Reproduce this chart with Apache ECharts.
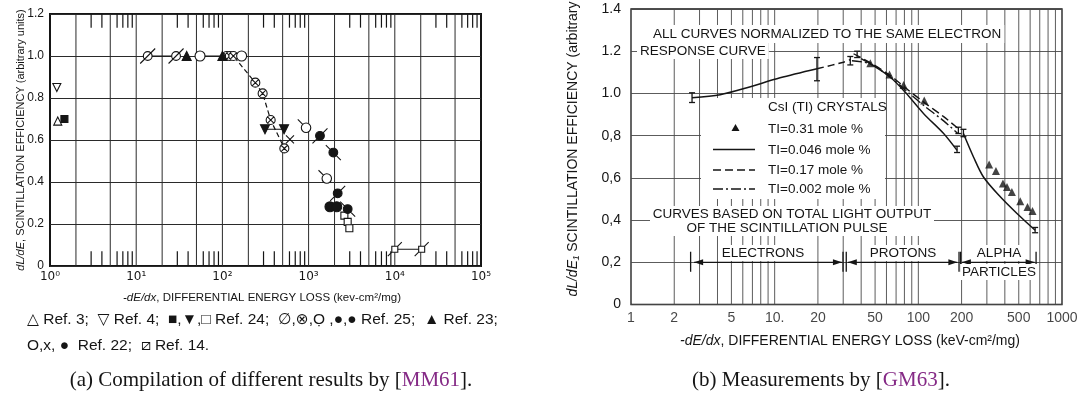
<!DOCTYPE html>
<html><head><meta charset="utf-8">
<script src="https://cdn.jsdelivr.net/npm/echarts@6/dist/echarts.min.js"></script>
<style>html,body{margin:0;padding:0;background:#fff}#c{width:1090px;height:399px}</style>
</head><body><div id="c"></div>
<script>
// ===== Panel (a): [dE/dx (keV cm2/mg), scintillation efficiency] =====
const ref3OpenTri = [[1.23, 0.69]];
const ref4OpenTriDown = [[1.2, 0.85]];
const ref24Square = [[1.47, 0.70]];
const ref24TriDown = [[312, 0.651], [519, 0.651]];
const ref24OpenSquare = [[2600, 0.24], [2840, 0.21], [2970, 0.18]];
const ref25OpenSlash = [[13.6, 1.0], [29, 1.0]];
const ref25CircX = [[112, 1.0], [122, 1.0], [134, 1.0], [241, 0.873], [293, 0.822], [363, 0.695], [523, 0.56]];
const ref25OpenTail = [[891, 0.667], [1550, 0.425]];
const ref25FilledSlash = [[1355, 0.62], [2175, 0.346]];
const ref25FilledTail = [[1936, 0.54], [2840, 0.271]];
const ref23Tri = [[38.5, 1.0], [100, 1.0]];
const ref22Open = [[55, 1.0], [167, 1.0]];
const ref22Cross = [[608, 0.603]];
const ref22Filled = [[1770, 0.282], [2120, 0.282]];
const ref14Square = [[10000, 0.08], [20500, 0.08]];
const plateauA = [[55, 1.0], [100, 1.0]];
const decadesA = [1, 10, 100, 1000, 10000];

// ===== Panel (b) =====
const responseSolid = [[2.66, 0.98], [4.18, 0.994], [6.41, 1.027], [10.9, 1.074], [19.7, 1.117]];
const responseDashed = [[19.7, 1.117], [30.1, 1.148], [33.6, 1.16]];
const tl017 = [[35.4, 1.188], [46.4, 1.145], [63.8, 1.085], [80, 1.03], [109, 0.959], [150, 0.89], [190, 0.833]];
const tl0002 = [[34.5, 1.155], [46.4, 1.14], [63.8, 1.077], [80, 1.02], [109, 0.943], [150, 0.87], [188, 0.81]];
const tl0046Protons = [[40, 1.165], [46.4, 1.14], [63.8, 1.077], [80, 1.01], [109, 0.904], [150, 0.81], [186, 0.73]];
const tl0046Alpha = [[206, 0.81], [242, 0.699], [284, 0.604], [372, 0.51], [486, 0.431], [650, 0.352]];
const tl031 = [[46.3, 1.143], [63, 1.09], [78.9, 1.04], [110, 0.967], [311, 0.663], [347, 0.633], [388, 0.573], [414, 0.557], [448, 0.533], [512, 0.489], [575, 0.462], [623, 0.443]];
const errorBarsB = [[2.66, 0.957, 1.003], [19.7, 1.06, 1.17], [33.6, 1.135, 1.175], [37.5, 1.17, 1.2], [186, 0.72, 0.75], [190, 0.81, 0.84], [206, 0.795, 0.83], [650, 0.34, 0.365]];
const rangeArrowsB = [[2.75, 29.4, 0.2], [32.3, 187, 0.2], [201, 645, 0.2]];
const rangeBarsB = [[2.6, 0.155, 0.25], [29.9, 0.155, 0.25], [31.5, 0.155, 0.25], [192, 0.155, 0.25], [197, 0.155, 0.25], [660, 0.155, 0.25]];
const tickValuesB = [1, 2, 5, 10, 20, 50, 100, 200, 500, 1000];
const tickLabelsB = ['1', '2', '5', '10.', '20', '50', '100', '200', '500', '1000'];
const decadesB = [1, 10, 100];

const INK = '#151515';
const GRIDA = '#2a2a2a';
const GRIDB = '#4a4a4a';
const FONT = 'Liberation Sans, DejaVu Sans, sans-serif';

const gridLinesA = [], minorTopA = [], minorBotA = [];
decadesA.forEach(d => {
  [1, 2, 5].forEach(m => { const v = m * d; if (v > 1 && v < 1e5) gridLinesA.push([v, 0, 1.2]); });
  [3, 4, 6, 7, 8, 9].forEach(m => { minorTopA.push([m * d, 1.135, 1.2]); minorBotA.push([m * d, 0, 0.07]); });
});
const gridLinesB = [];
decadesB.forEach(d => { for (let m = 1; m <= 9; m++) { const v = m * d; if (v > 1 && v < 1000) gridLinesB.push([v, 0, 1.4]); } });

const SYM = {
  openSlash: 'path://M7,3.5A3.5,3.5,0,1,1,7,10.5A3.5,3.5,0,1,1,7,3.5Z M1,13L13,1',
  backSlash: 'path://M7,3.5A3.5,3.5,0,1,1,7,10.5A3.5,3.5,0,1,1,7,3.5Z M1,1L13,13',
  circX: 'path://M5,0A5,5,0,1,1,5,10A5,5,0,1,1,5,0Z M1.5,1.5L8.5,8.5 M8.5,1.5L1.5,8.5',
  tail: 'path://M8,4A4,4,0,1,1,8,12A4,4,0,1,1,8,4Z M5.2,5.2L1,1',
  cross: 'path://M0,0L10,10 M10,0L0,10',
  slashSquare: 'path://M4,4H10V10H4Z M0,14L4,10 M10,4L14,0'
};

function vseg(xi, data, style, z, cap) {
  return {
    type: 'custom', xAxisIndex: xi, yAxisIndex: xi, data: data, z: z, silent: true, clip: false,
    encode: { x: 0, y: [1, 2] },
    renderItem: (p, api) => {
      const a = api.coord([api.value(0), api.value(1)]);
      const b = api.coord([api.value(0), api.value(2)]);
      const ch = [{ type: 'line', shape: { x1: a[0], y1: a[1], x2: b[0], y2: b[1] }, style: style }];
      if (cap) {
        ch.push({ type: 'line', shape: { x1: a[0] - cap, y1: a[1], x2: a[0] + cap, y2: a[1] }, style: style });
        ch.push({ type: 'line', shape: { x1: b[0] - cap, y1: b[1], x2: b[0] + cap, y2: b[1] }, style: style });
      }
      return { type: 'group', children: ch };
    }
  };
}
function pts(data, symbol, size, fill, extra) {
  return Object.assign({
    type: 'scatter', xAxisIndex: 0, yAxisIndex: 0, data: data, symbol: symbol, symbolSize: size, z: 5,
    itemStyle: { color: fill, borderColor: INK, borderWidth: 1.1, opacity: 1 }
  }, extra || {});
}
function lineS(xi, data, type, width, smooth) {
  return { type: 'line', xAxisIndex: xi, yAxisIndex: xi, data: data, symbol: 'none', smooth: smooth || 0, z: 3,
    lineStyle: { color: INK, width: width, type: type } };
}

const series = [
  vseg(0, gridLinesA, { stroke: GRIDA, lineWidth: 1 }, 1),
  vseg(0, minorTopA, { stroke: INK, lineWidth: 1.2 }, 1),
  vseg(0, minorBotA, { stroke: INK, lineWidth: 1.2 }, 1),
  lineS(0, ref25OpenSlash, 'solid', 1.1),
  lineS(0, plateauA, 'solid', 1.1),
  lineS(0, ref25CircX, [5, 3], 1.2),
  lineS(0, ref24TriDown, 'solid', 1.1),
  lineS(0, ref14Square, 'solid', 1.1),
  pts(ref3OpenTri, 'triangle', 8, '#fff'),
  pts(ref4OpenTriDown, 'triangle', 8, '#fff', { symbolRotate: 180 }),
  pts(ref24Square, 'rect', 7, INK),
  pts(ref24TriDown, 'triangle', 9, INK, { symbolRotate: 180 }),
  pts(ref24OpenSquare, 'rect', 7, '#fff'),
  pts(ref25OpenSlash, SYM.openSlash, 15, '#fff'),
  pts(ref25CircX, SYM.circX, 9, '#fff'),
  pts(ref25OpenTail, SYM.tail, 13, '#fff'),
  pts(ref25FilledSlash, SYM.openSlash, 15, INK),
  pts(ref25FilledTail, SYM.backSlash, 15, INK),
  pts(ref23Tri, 'triangle', 9, INK),
  pts(ref22Open, 'circle', 10, '#fff'),
  pts(ref22Cross, SYM.cross, 8, 'none'),
  pts(ref22Filled, 'circle', 10, INK),
  pts(ref14Square, SYM.slashSquare, 14, '#fff'),
  // panel (b)
  vseg(1, gridLinesB, { stroke: GRIDB, lineWidth: 0.9 }, 1),
  lineS(1, responseSolid, 'solid', 1.5, 0.3),
  lineS(1, responseDashed, [7, 4], 1.5, 0.3),
  lineS(1, tl017, [8, 4], 1.4, 0.3),
  lineS(1, tl0002, [10, 3, 2, 3], 1.4, 0.3),
  lineS(1, tl0046Protons, 'solid', 1.4, 0.3),
  lineS(1, tl0046Alpha, 'solid', 1.5, 0.3),
  { type: 'scatter', xAxisIndex: 1, yAxisIndex: 1, data: tl031, symbol: 'triangle', symbolSize: 8, z: 5,
    itemStyle: { color: INK } },
  vseg(1, errorBarsB, { stroke: INK, lineWidth: 1.3 }, 4, 3),
  vseg(1, rangeBarsB, { stroke: INK, lineWidth: 1.3 }, 4),
  {
    type: 'custom', xAxisIndex: 1, yAxisIndex: 1, data: rangeArrowsB, z: 4, silent: true, clip: false,
    encode: { x: [0, 1], y: 2 },
    renderItem: (p, api) => {
      const a = api.coord([api.value(0), api.value(2)]);
      const b = api.coord([api.value(1), api.value(2)]);
      const st = { stroke: INK, lineWidth: 1.2 };
      return { type: 'group', children: [
        { type: 'line', shape: { x1: a[0], y1: a[1], x2: b[0], y2: b[1] }, style: st },
        { type: 'polygon', shape: { points: [[a[0], a[1]], [a[0] + 9, a[1] - 3], [a[0] + 9, a[1] + 3]] }, style: { fill: INK } },
        { type: 'polygon', shape: { points: [[b[0], b[1]], [b[0] - 9, b[1] - 3], [b[0] - 9, b[1] + 3]] }, style: { fill: INK } }
      ] };
    }
  },
  { type: 'scatter', xAxisIndex: 1, yAxisIndex: 1, data: tickValuesB.map(v => [v, 0]), symbolSize: 1, z: 2,
    itemStyle: { color: 'rgba(0,0,0,0)' }, silent: true,
    label: { show: true, position: 'bottom', distance: 6, color: INK, fontFamily: FONT, fontSize: 14,
      formatter: p => tickLabelsB[p.dataIndex] } }
];

function T(x, y, text, o) {
  return Object.assign({ type: 'text', x: x, y: y, z: 10, style: Object.assign({
    text: text, fill: INK, fontFamily: FONT, fontSize: 13, align: 'left', verticalAlign: 'middle'
  }, o || {}) }, (o && o.rotation) ? { rotation: o.rotation } : {});
}
const supers = ['⁰', '¹', '²', '³', '⁴', '⁵'];

const graphic = [
  // panel (a) texts
  T(21, 140, '{i|dL/dE}, SCINTILLATION EFFICIENCY (arbitrary units)', { align: 'center', fontSize: 11, rotation: Math.PI / 2, rich: { i: { fontStyle: 'italic', fontSize: 11, fontFamily: FONT } } }),
  T(262, 298, '{i|-dE/dx}, DIFFERENTIAL ENERGY LOSS (kev-cm²/mg)', { align: 'center', fontSize: 11.5, rich: { i: { fontStyle: 'italic', fontSize: 11.5, fontFamily: FONT } } }),
  T(27, 320, '△ Ref. 3;  ▽ Ref. 4;  ■,▼,□ Ref. 24;  ∅,⊗,Ọ ,●,● Ref. 25;  ▲ Ref. 23;', { fontSize: 15.5 }),
  T(27, 346, 'O,x, ●  Ref. 22;  ⧄ Ref. 14.', { fontSize: 15.5 }),
  T(271, 380, '(a) Compilation of different results by [{m|MM61}].', { align: 'center', fontFamily: 'Liberation Serif, serif', fontSize: 21, rich: { m: { fill: '#852a86', fontFamily: 'Liberation Serif, serif', fontSize: 21 } } }),
  // panel (b) texts
  T(573, 130, '{i|dL/dE₁} SCINTILLATION EFFICIENCY (arbitrary units)', { align: 'center', fontSize: 14, rotation: Math.PI / 2, rich: { i: { fontStyle: 'italic', fontSize: 14, fontFamily: FONT } } }),
  T(850, 341, '{i|-dE/dx}, DIFFERENTIAL ENERGY LOSS (keV-cm²/mg)', { align: 'center', fontSize: 14, rich: { i: { fontStyle: 'italic', fontSize: 14, fontFamily: FONT } } }),
  T(821, 380, '(b) Measurements by [{m|GM63}].', { align: 'center', fontFamily: 'Liberation Serif, serif', fontSize: 21, rich: { m: { fill: '#852a86', fontFamily: 'Liberation Serif, serif', fontSize: 21 } } }),
  T(650, 34, 'ALL CURVES NORMALIZED TO THE SAME ELECTRON', { fontSize: 13.5, backgroundColor: '#fff', padding: [2, 3] }),
  T(637, 51, 'RESPONSE CURVE', { fontSize: 13.5, backgroundColor: '#fff', padding: [1, 3] }),
  { type: 'rect', z: 9, shape: { x: 701, y: 98, width: 184, height: 101 }, style: { fill: '#fff' } },
  T(768, 107, 'CsI (TI) CRYSTALS', { fontSize: 13.5 }),
  { type: 'polygon', z: 10, shape: { points: [[735.5, 124], [739.5, 131], [731.5, 131]] }, style: { fill: INK } },
  T(768, 129, 'TI=0.31 mole %', { fontSize: 13.5 }),
  { type: 'line', z: 10, shape: { x1: 713, y1: 149.5, x2: 755, y2: 149.5 }, style: { stroke: INK, lineWidth: 1.4 } },
  T(768, 150, 'TI=0.046 mole %', { fontSize: 13.5 }),
  { type: 'line', z: 10, shape: { x1: 713, y1: 170, x2: 755, y2: 170 }, style: { stroke: INK, lineWidth: 1.4, lineDash: [8, 4] } },
  T(768, 170, 'TI=0.17 mole %', { fontSize: 13.5 }),
  { type: 'line', z: 10, shape: { x1: 713, y1: 189, x2: 755, y2: 189 }, style: { stroke: INK, lineWidth: 1.4, lineDash: [10, 3, 2, 3] } },
  T(768, 189, 'TI=0.002 mole %', { fontSize: 13.5 }),
  { type: 'rect', z: 9, shape: { x: 650, y: 206, width: 284, height: 30 }, style: { fill: '#fff' } },
  T(792, 214, 'CURVES BASED ON TOTAL LIGHT OUTPUT', { align: 'center', fontSize: 13.5 }),
  T(787, 228.5, 'OF THE SCINTILLATION PULSE', { align: 'center', fontSize: 13.5 }),
  T(763, 253, 'ELECTRONS', { align: 'center', fontSize: 13.5, backgroundColor: '#fff', padding: [1, 3] }),
  T(903, 253, 'PROTONS', { align: 'center', fontSize: 13.5, backgroundColor: '#fff', padding: [1, 3] }),
  T(999, 253, 'ALPHA', { align: 'center', fontSize: 13.5, backgroundColor: '#fff', padding: [1, 3] }),
  T(999, 272, 'PARTICLES', { align: 'center', fontSize: 13.5, backgroundColor: '#fff', padding: [1, 2] })
];

const option = {
  animation: false,
  backgroundColor: '#fff',
  grid: [
    { left: 50, top: 14, width: 431, height: 252, show: true, borderColor: INK, borderWidth: 2, backgroundColor: 'rgba(0,0,0,0)' },
    { left: 631, top: 9, width: 431, height: 295.5, show: true, borderColor: INK, borderWidth: 1.3, backgroundColor: 'rgba(0,0,0,0)' }
  ],
  xAxis: [
    { gridIndex: 0, type: 'log', logBase: 10, min: 1, max: 100000,
      axisLine: { show: false }, axisTick: { show: false }, splitLine: { show: false },
      axisLabel: { margin: 5, color: INK, fontFamily: 'DejaVu Sans, sans-serif', fontSize: 12,
        formatter: v => '10' + supers[Math.round(Math.log10(v))] } },
    { gridIndex: 1, type: 'log', logBase: 10, min: 1, max: 1000,
      axisLine: { show: false }, axisTick: { show: false }, splitLine: { show: false }, axisLabel: { show: false } }
  ],
  yAxis: [
    { gridIndex: 0, type: 'value', min: 0, max: 1.2, interval: 0.2,
      axisLine: { show: false }, axisTick: { show: false },
      splitLine: { show: true, lineStyle: { color: GRIDA, width: 1 } },
      axisLabel: { margin: 6, color: INK, fontFamily: FONT, fontSize: 12, formatter: v => v === 0 ? '0' : v.toFixed(1) } },
    { gridIndex: 1, type: 'value', min: 0, max: 1.4, interval: 0.2,
      axisLine: { show: false }, axisTick: { show: false },
      splitLine: { show: true, lineStyle: { color: GRIDB, width: 0.9 } },
      axisLabel: { margin: 10, color: INK, fontFamily: FONT, fontSize: 14,
        formatter: v => v === 0 ? '0' : (v < 0.99 ? v.toFixed(1).replace('.', ',') : v.toFixed(1)) } }
  ],
  series: series,
  graphic: graphic
};
const chart = echarts.init(document.getElementById('c'), null, { renderer: 'canvas' });
chart.setOption(option);
</script>
</body></html>
